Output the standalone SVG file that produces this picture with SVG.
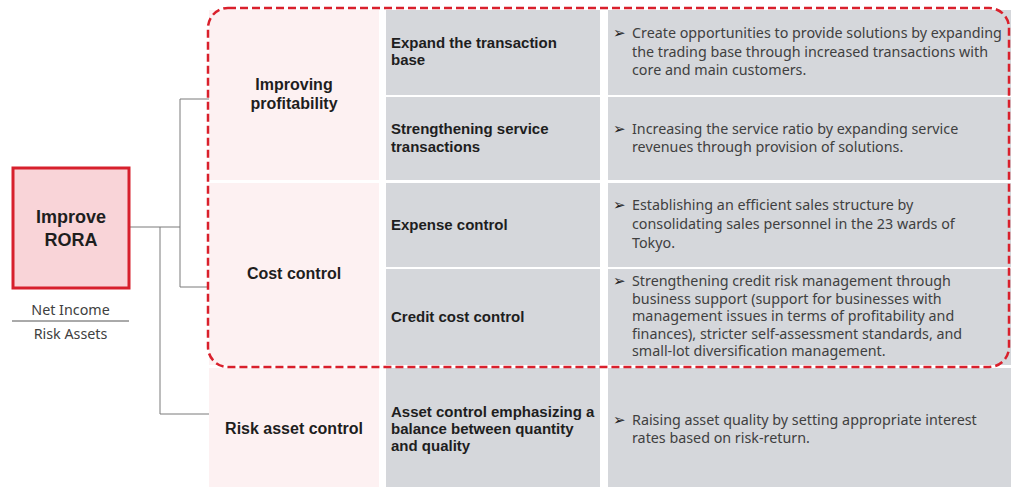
<svg xmlns="http://www.w3.org/2000/svg" width="1011" height="487" viewBox="0 0 1011 487">
<style>
.pink{fill:#fdf1f2}
.gray{fill:#d5d7db}
.lbl{font-family:"Liberation Sans",Arial,sans-serif;font-weight:bold;fill:#1e1e1e}
.big{font-size:16px;text-anchor:middle}
.mid{font-size:15px}
.desc{font-family:"Noto Sans","Liberation Sans",sans-serif;font-size:14.3px;fill:#404040}
.arr{font-family:"DejaVu Sans",sans-serif;font-size:15px;fill:#222}
.conn{stroke:#7a7a7a;stroke-width:1;fill:none}
</style>
<rect width="1011" height="487" fill="#ffffff"/>
<g id="connectors">
<path class="conn" d="M129 227H180M180 99V287M180 99H209M180 287H209M160 227V414H209"/>
</g>
<g id="root">
<rect x="13" y="168" width="116" height="120" fill="#f9d4d8" stroke="#d7202d" stroke-width="3"/>
<text class="lbl" x="71" y="223" font-size="18" text-anchor="middle">Improve</text>
<text class="lbl" x="71" y="246" font-size="18" text-anchor="middle">RORA</text>
<text class="desc" x="70.5" y="315" text-anchor="middle" font-size="13.5" fill="#555">Net Income</text>
<line x1="12" y1="321" x2="129" y2="321" stroke="#555" stroke-width="1"/>
<text class="desc" x="70.5" y="339" text-anchor="middle" font-size="13.5" fill="#555">Risk Assets</text>
</g>
<g id="profitability">
<rect class="pink" x="209" y="10" width="170" height="170"/>
<text class="lbl big" x="294" y="90">Improving</text>
<text class="lbl big" x="294" y="109">profitability</text>
</g>
<g id="cost">
<rect class="pink" x="209" y="183" width="170" height="182"/>
<text class="lbl big" x="294" y="279">Cost control</text>
</g>
<g id="risk">
<rect class="pink" x="209" y="368" width="170" height="119"/>
<text class="lbl big" x="294" y="434">Risk asset control</text>
</g>
<g id="expand">
<rect class="gray" x="386" y="10" width="214" height="85"/>
<rect class="gray" x="608" y="10" width="403" height="85"/>
<text class="lbl mid" x="391" y="48">Expand the transaction</text>
<text class="lbl mid" x="391" y="65">base</text>
<text class="arr" x="613" y="38">➢</text>
<text class="desc" x="632" y="38">Create opportunities to provide solutions by expanding</text>
<text class="desc" x="632" y="57">the trading base through increased transactions with</text>
<text class="desc" x="632" y="75">core and main customers.</text>
</g>
<g id="service">
<rect class="gray" x="386" y="97" width="214" height="83"/>
<rect class="gray" x="608" y="97" width="403" height="83"/>
<text class="lbl mid" x="391" y="134">Strengthening service</text>
<text class="lbl mid" x="391" y="152">transactions</text>
<text class="arr" x="613" y="134">➢</text>
<text class="desc" x="632" y="134">Increasing the service ratio by expanding service</text>
<text class="desc" x="632" y="152">revenues through provision of solutions.</text>
</g>
<g id="expense">
<rect class="gray" x="386" y="183" width="214" height="84"/>
<rect class="gray" x="608" y="183" width="403" height="84"/>
<text class="lbl mid" x="391" y="230">Expense control</text>
<text class="arr" x="613" y="210">➢</text>
<text class="desc" x="632" y="210">Establishing an efficient sales structure by</text>
<text class="desc" x="632" y="229">consolidating sales personnel in the 23 wards of</text>
<text class="desc" x="632" y="248">Tokyo.</text>
</g>
<g id="credit">
<rect class="gray" x="386" y="269" width="214" height="96"/>
<rect class="gray" x="608" y="269" width="403" height="96"/>
<text class="lbl mid" x="391" y="322">Credit cost control</text>
<text class="arr" x="613" y="286">➢</text>
<text class="desc" x="632" y="286">Strengthening credit risk management through</text>
<text class="desc" x="632" y="304">business support (support for businesses with</text>
<text class="desc" x="632" y="321">management issues in terms of profitability and</text>
<text class="desc" x="632" y="339">finances), stricter self-assessment standards, and</text>
<text class="desc" x="632" y="356">small-lot diversification management.</text>
</g>
<g id="asset">
<rect class="gray" x="386" y="368" width="214" height="119"/>
<rect class="gray" x="608" y="368" width="403" height="119"/>
<text class="lbl mid" x="391" y="417">Asset control emphasizing a</text>
<text class="lbl mid" x="391" y="434">balance between quantity</text>
<text class="lbl mid" x="391" y="451">and quality</text>
<text class="arr" x="613" y="425">➢</text>
<text class="desc" x="632" y="425">Raising asset quality by setting appropriate interest</text>
<text class="desc" x="632" y="443">rates based on risk-return.</text>
</g>
<g id="highlight">
<rect x="208" y="8" width="801" height="359" rx="20" ry="20" fill="none" stroke="#d9202c" stroke-width="2.5" stroke-dasharray="8 4"/>
</g>
</svg>
